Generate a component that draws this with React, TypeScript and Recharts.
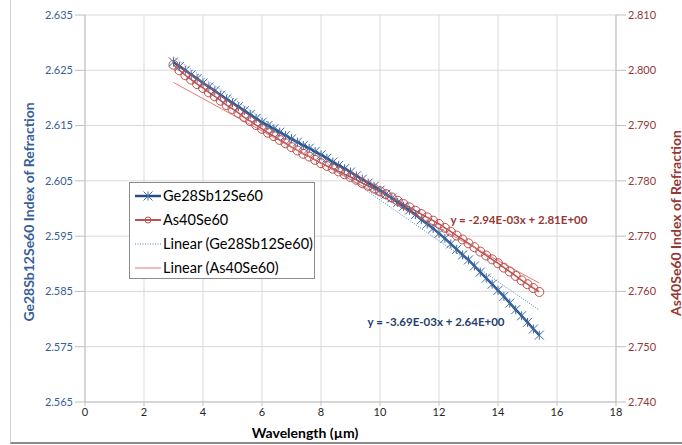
import {
  ComposedChart,
  Line,
  XAxis,
  YAxis,
  CartesianGrid,
  ReferenceDot,
} from 'recharts'

// wavelength in µm
const wavelength = [
  3.0, 3.2, 3.4, 3.6, 3.8, 4.0, 4.2, 4.4, 4.6, 4.8, 5.0, 5.2, 5.4, 5.6, 5.8, 6.0,
  6.2, 6.4, 6.6, 6.8, 7.0, 7.2, 7.4, 7.6, 7.8, 8.0, 8.2, 8.4, 8.6, 8.8, 9.0, 9.2,
  9.4, 9.6, 9.8, 10.0, 10.2, 10.4, 10.6, 10.8, 11.0, 11.2, 11.4, 11.6, 11.8, 12.0,
  12.2, 12.4, 12.6, 12.8, 13.0, 13.2, 13.4, 13.6, 13.8, 14.0, 14.2, 14.4, 14.6,
  14.8, 15.0, 15.2, 15.4,
]

// Ge28Sb12Se60 index (left axis)
const ge28 = [
  2.6265, 2.6257, 2.625, 2.6242, 2.6235, 2.6227, 2.622, 2.6213, 2.6205, 2.6198,
  2.6191, 2.6184, 2.6177, 2.617, 2.6163, 2.6156, 2.615, 2.6144, 2.6138, 2.6132,
  2.6126, 2.612, 2.6114, 2.6109, 2.6103, 2.6097, 2.6091, 2.6084, 2.6078, 2.6072,
  2.6066, 2.6059, 2.6053, 2.6046, 2.604, 2.6033, 2.6026, 2.6019, 2.6011, 2.6004,
  2.5997, 2.5989, 2.598, 2.5972, 2.5964, 2.5955, 2.5946, 2.5936, 2.5926, 2.5916,
  2.5907, 2.5896, 2.5885, 2.5874, 2.5863, 2.5852, 2.5841, 2.5829, 2.5817, 2.5806,
  2.5794, 2.5782, 2.5771,
]

// As40Se60 index (right axis)
const as40 = [
  2.801, 2.8, 2.7991, 2.7983, 2.7975, 2.7968, 2.796, 2.7953, 2.7945, 2.7937,
  2.793, 2.7923, 2.7915, 2.7908, 2.7901, 2.7894, 2.7887, 2.7881, 2.7874, 2.7868,
  2.7861, 2.7855, 2.7849, 2.7844, 2.7838, 2.7832, 2.7827, 2.7822, 2.7817, 2.7812,
  2.7807, 2.7802, 2.7796, 2.7791, 2.7786, 2.7781, 2.7776, 2.777, 2.7764, 2.7758,
  2.7752, 2.7746, 2.774, 2.7734, 2.7728, 2.7722, 2.7715, 2.7708, 2.7701, 2.7694,
  2.7687, 2.768, 2.7672, 2.7665, 2.7658, 2.7651, 2.7643, 2.7636, 2.7628, 2.762,
  2.7613, 2.7606, 2.7599,
]

// linear trendline ends
const fitX = [3.0, 15.4]
const geFit = [2.6274, 2.5816]
const asFit = [2.7978, 2.7615]

const xTicks = [0, 2, 4, 6, 8, 10, 12, 14, 16, 18]
const leftTicks = [2.565, 2.575, 2.585, 2.595, 2.605, 2.615, 2.625, 2.635]
const rightTicks = [2.74, 2.75, 2.76, 2.77, 2.78, 2.79, 2.8, 2.81]

const BLUE = '#254e85'
const BLUE_MARK = '#3e6aa3'
const RED = '#c0504d'
const BLUE_TEXT = '#37609a'
const RED_TEXT = '#953735'
const GRID = '#d9d9d9'
const FONT = 'Lato, "Open Sans", sans-serif'

const data = wavelength.map((x, i) => {
  const f = fitX.indexOf(x)
  return {
    x,
    ge: ge28[i],
    as: as40[i],
    geFit: f >= 0 ? geFit[f] : undefined,
    asFit: f >= 0 ? asFit[f] : undefined,
  }
})

const StarDot = (props: { cx?: number; cy?: number; index?: number }) => {
  const { cx, cy, index } = props
  if (cx == null || cy == null) return <g key={`s-${index}`} />
  const s = 4.5
  return (
    <path
      key={`s-${index}`}
      d={`M${cx - s},${cy - s}L${cx + s},${cy + s}M${cx - s},${cy + s}L${cx + s},${cy - s}M${cx},${cy - s}L${cx},${cy + s}`}
      stroke={BLUE_MARK}
      strokeWidth={1}
      fill="none"
    />
  )
}

const LegendBox = () => {
  const rows = [
    { name: 'Ge28Sb12Se60', kind: 'ge' },
    { name: 'As40Se60', kind: 'as' },
    { name: 'Linear (Ge28Sb12Se60)', kind: 'geFit' },
    { name: 'Linear (As40Se60)', kind: 'asFit' },
  ]
  return (
    <div
      style={{
        position: 'absolute',
        left: 129,
        top: 182,
        width: 184,
        height: 95,
        border: '1px solid #8c8c8c',
        background: '#fff',
        fontFamily: FONT,
      }}
    >
      <svg width={184} height={95} style={{ display: 'block' }}>
        {rows.map((r, i) => {
          const y = 13 + i * 24
          return (
            <g key={r.name}>
              {r.kind === 'ge' && (
                <>
                  <line x1={5} x2={31} y1={y} y2={y} stroke={BLUE} strokeWidth={2.5} />
                  <StarDot cx={18} cy={y} index={-1} />
                </>
              )}
              {r.kind === 'as' && (
                <>
                  <line x1={5} x2={31} y1={y} y2={y} stroke={RED} strokeWidth={2} />
                  <circle cx={18} cy={y} r={3} stroke={RED} fill="none" />
                </>
              )}
              {r.kind === 'geFit' && (
                <line x1={5} x2={31} y1={y} y2={y} stroke="#4f81bd" strokeWidth={1} strokeDasharray="1 1.5" />
              )}
              {r.kind === 'asFit' && (
                <line x1={5} x2={31} y1={y} y2={y} stroke="#e07b78" strokeWidth={1} />
              )}
              <text x={33} y={y} dy="0.35em" fontSize={14.5} fill="#000">
                {r.name}
              </text>
            </g>
          )
        })}
      </svg>
    </div>
  )
}

export default function App() {
  return (
    <div
      style={{
        position: 'absolute',
        left: 0,
        top: 0,
        width: 682,
        height: 445,
        background: '#fff',
        fontFamily: FONT,
      }}
    >
      <div
        style={{
          position: 'absolute',
          left: 10,
          top: 0,
          width: 672,
          height: 442,
          borderLeft: '1px solid #d0d0d0',
          borderBottom: '2px solid #8a8a8a',
        }}
      />
      <div style={{ position: 'absolute', left: 0, top: 0 }}>
        <ComposedChart
          width={682}
          height={445}
          data={data}
          margin={{ top: 15, right: 0, bottom: 0, left: 0 }}
        >
          <CartesianGrid yAxisId="left" stroke={GRID} strokeWidth={1} />
          <XAxis
            dataKey="x"
            type="number"
            domain={[0, 18]}
            ticks={xTicks}
            height={43}
            tickSize={4}
            axisLine={{ stroke: '#bfbfbf' }}
            tickLine={{ stroke: '#bfbfbf' }}
            tick={{ fill: '#262626', fontSize: 11 }}
            label={() => (
              <text x={305} y={433} dy="0.35em" textAnchor="middle" fontSize={14} fontWeight="bold" fill="#000">
                Wavelength (µm)
              </text>
            )}
          />
          <YAxis
            yAxisId="left"
            orientation="left"
            width={85}
            domain={[2.565, 2.635]}
            ticks={leftTicks}
            tickFormatter={(v: number) => v.toFixed(3)}
            tickSize={10}
            axisLine={{ stroke: '#bfbfbf' }}
            tickLine={{ stroke: '#bfbfbf' }}
            tick={{ fill: BLUE_TEXT, fontSize: 11 }}
            label={() => (
              <text
                x={28}
                y={212}
                transform="rotate(-90 28 212)"
                textAnchor="middle"
                dominantBaseline="central"
                fontSize={14}
                fontWeight="bold"
                fill={BLUE_TEXT}
              >
                Ge28Sb12Se60 Index of Refraction
              </text>
            )}
          />
          <YAxis
            yAxisId="right"
            orientation="right"
            width={66}
            domain={[2.74, 2.81]}
            ticks={rightTicks}
            tickFormatter={(v: number) => v.toFixed(3)}
            tickSize={10}
            axisLine={{ stroke: '#bfbfbf' }}
            tickLine={{ stroke: '#bfbfbf' }}
            tick={{ fill: RED_TEXT, fontSize: 11 }}
            label={() => (
              <text
                x={675}
                y={223}
                transform="rotate(-90 675 223)"
                textAnchor="middle"
                dominantBaseline="central"
                fontSize={14}
                fontWeight="bold"
                fill={RED_TEXT}
              >
                As40Se60 Index of Refraction
              </text>
            )}
          />
          <Line
            yAxisId="left"
            dataKey="ge"
            stroke={BLUE}
            strokeWidth={2.5}
            dot={StarDot}
            activeDot={false}
            isAnimationActive={false}
          />
          <Line
            yAxisId="right"
            dataKey="as"
            stroke={RED}
            strokeWidth={1.5}
            dot={{ r: 4.5, stroke: RED, strokeWidth: 1, fill: 'none' }}
            activeDot={false}
            isAnimationActive={false}
          />
          <Line
            yAxisId="left"
            dataKey="geFit"
            stroke="#4f81bd"
            strokeWidth={1}
            strokeDasharray="1 1.5"
            dot={false}
            connectNulls
            activeDot={false}
            isAnimationActive={false}
          />
          <Line
            yAxisId="right"
            dataKey="asFit"
            stroke="#e07b78"
            strokeWidth={1}
            dot={false}
            connectNulls
            activeDot={false}
            isAnimationActive={false}
          />
          <ReferenceDot
            yAxisId="right"
            x={14.71}
            y={2.7729}
            r={0}
            label={{
              value: 'y = -2.94E-03x + 2.81E+00',
              position: 'center',
              fill: RED_TEXT,
              fontSize: 11.5,
              fontWeight: 'bold',
            }}
          />
          <ReferenceDot
            yAxisId="left"
            x={11.9}
            y={2.5794}
            r={0}
            label={{
              value: 'y = -3.69E-03x + 2.64E+00',
              position: 'center',
              fill: '#1f3f6e',
              fontSize: 11.5,
              fontWeight: 'bold',
            }}
          />
        </ComposedChart>
      </div>
      <LegendBox />
    </div>
  )
}
